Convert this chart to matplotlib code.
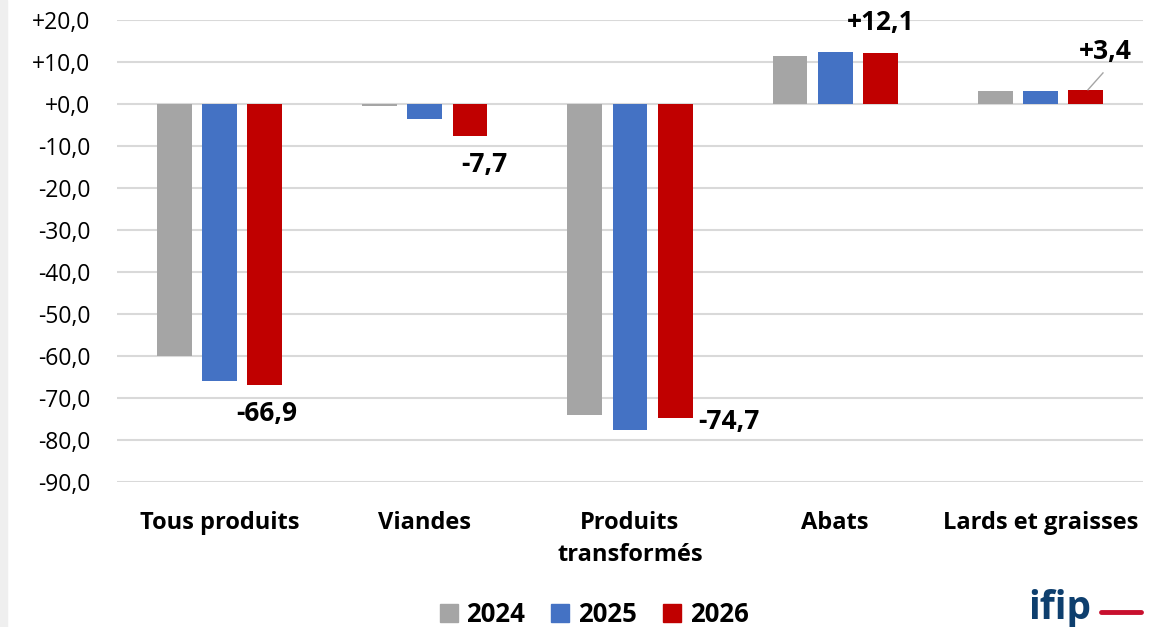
import numpy as np
import matplotlib
matplotlib.use('Agg')
import matplotlib.pyplot as plt
from matplotlib.patches import Rectangle
from matplotlib.lines import Line2D

plt.rcParams['font.family'] = ['Open Sans', 'DejaVu Sans']

categories = ['Tous produits', 'Viandes', 'Produits\ntransformés', 'Abats', 'Lards et graisses']
years = ['2024', '2025', '2026']
v2024 = [-60.0, -0.5, -74.0, 11.4, 3.2]
v2025 = [-65.9, -3.6, -77.6, 12.4, 3.0]
v2026 = [-66.9, -7.7, -74.7, 12.1, 3.4]
colors = ['#a5a5a5', '#4472c4', '#c00000']
yticks = list(range(20, -100, -10))

fig = plt.figure(figsize=(11.68, 6.27), dpi=100)
fig.patches.append(Rectangle((0, 0), 7 / 1168, 1, transform=fig.transFigure,
                             color='#efefef', zorder=0))
ax = fig.add_axes([117 / 1168, 1 - 482 / 627, (1143 - 117) / 1168, 462 / 627])

x = np.arange(len(categories))
w = 0.17
step = 0.22
for i, (vals, c) in enumerate(zip([v2024, v2025, v2026], colors)):
    ax.bar(x + (i - 1) * step, vals, w, color=c, zorder=3, label=years[i])

ax.set_ylim(-90, 20)
ax.set_xlim(-0.5, len(categories) - 0.5)
ax.set_yticks(yticks)
ax.set_yticklabels([('+' if t >= 0 else '-') + f'{abs(t)},0' for t in yticks], fontsize=16.5)
ax.yaxis.grid(True, color='#d9d9d9', linewidth=1.5, zorder=0)
for s in ax.spines.values():
    s.set_visible(False)
ax.tick_params(axis='y', length=0, pad=19)
ax.tick_params(axis='x', length=0, pad=21)
ax.set_xticks(x)
ax.set_xticklabels(categories, fontsize=17, fontweight='bold', linespacing=1.45, va='top')


def fmt(v):
    s = f'{abs(v):.1f}'.replace('.', ',')
    return ('+' if v >= 0 else '-') + s


# label positions (data coords)
lbl_x = [0.23, 1.29, 2.48, 3.22, 4.315]
lbl_y = [-73.6, -14.5, -75.5, 19.5, 12.4]
lbl_kw = dict(fontsize=19, fontweight='bold', ha='center', va='center', zorder=5)
for xi, yi, v in zip(lbl_x, lbl_y, v2026):
    ax.text(xi, yi, fmt(v), **lbl_kw)
ax.plot([4.232, 4.305], [3.4, 7.4], color='#a5a5a5', linewidth=1, zorder=5)

handles = [Rectangle((0, 0), 1, 1, color=c) for c in colors]
fig.legend(handles, years, loc='center', bbox_to_anchor=(594 / 1168, 1 - 614 / 627),
           ncol=3, frameon=False, prop={'size': 18.5, 'weight': 'bold'},
           handlelength=0.7, handleheight=0.7, handletextpad=0.35, columnspacing=1.0)

fig.text(1028 / 1168, 1 - 608 / 627, 'ifip', fontsize=28, fontweight='bold',
         color='#0e3f6e', ha='left', va='center')
fig.add_artist(Line2D([1101 / 1168, 1141 / 1168], [1 - 612 / 627, 1 - 612 / 627],
                      transform=fig.transFigure, color='#c8102e', linewidth=3.5,
                      solid_capstyle='round'))

fig.savefig('out.png', dpi=100)
